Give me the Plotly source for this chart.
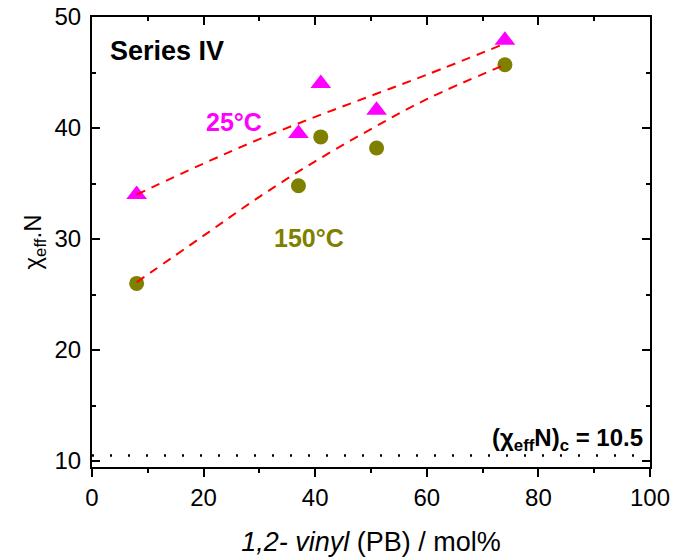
import plotly.graph_objects as go

# Data
vinyl_25 = [8, 37, 41, 51, 74]
chi_25 = [34.0, 39.5, 44.0, 41.6, 47.9]
vinyl_150 = [8, 37, 41, 51, 74]
chi_150 = [26.0, 34.8, 39.2, 38.2, 45.7]

fit_x = [8, 20, 30, 40, 50, 60, 74]
fit_25 = [34.0, 36.8, 39.0, 41.0, 42.9, 44.8, 47.6]
fit_150 = [26.1, 30.3, 33.8, 37.0, 39.9, 42.6, 45.7]

crit_x = [0, 100]
crit_y = [10.5, 10.5]

FONT = "Arial, Liberation Sans, sans-serif"
MAGENTA = "#FF00FF"
OLIVE = "#808000"

fig = go.Figure()

fig.add_trace(go.Scatter(x=crit_x, y=crit_y, mode="lines",
                         line=dict(color="black", width=2.5, dash="2px,16px"),
                         showlegend=False, hoverinfo="skip"))
fig.add_trace(go.Scatter(x=vinyl_25, y=chi_25, mode="markers",
                         marker=dict(symbol="triangle-up", size=18, color=MAGENTA),
                         showlegend=False))
fig.add_trace(go.Scatter(x=vinyl_150, y=chi_150, mode="markers",
                         marker=dict(symbol="circle", size=15, color=OLIVE),
                         showlegend=False))
fig.add_trace(go.Scatter(x=fit_x, y=fit_25, mode="lines", line_shape="spline",
                         line=dict(color="#FF0000", width=2, dash="9px,7px"),
                         showlegend=False))
fig.add_trace(go.Scatter(x=fit_x, y=fit_150, mode="lines", line_shape="spline",
                         line=dict(color="#FF0000", width=2, dash="9px,7px"),
                         showlegend=False))
# dummy trace for top axis
fig.add_trace(go.Scatter(x=[None], y=[None], xaxis="x2", yaxis="y", showlegend=False))

axis_common = dict(showgrid=False, zeroline=False, linecolor="black", linewidth=2,
                   tickcolor="black", tickwidth=2, automargin=False,
                   tickfont=dict(family=FONT, size=24, color="black"))

fig.update_layout(
    width=674, height=558,
    margin=dict(l=92, r=24, t=17, b=91),
    paper_bgcolor="white", plot_bgcolor="white",
    xaxis=dict(**axis_common, range=[0, 100], tick0=0, dtick=20,
               ticks="outside", ticklen=8, mirror=True, showline=True,
               minor=dict(dtick=10, ticks="outside", ticklen=4, tickwidth=2, tickcolor="black"),
               title=dict(text="<i>1,2- vinyl</i> (PB) / mol%",
                          font=dict(family=FONT, size=27, color="black"), standoff=22)),
    xaxis2=dict(overlaying="x", side="top", anchor="y", range=[0, 100], tick0=0, dtick=20,
                ticks="inside", ticklen=8, tickwidth=2, tickcolor="black", automargin=False,
                showticklabels=False, showgrid=False, zeroline=False, showline=False,
                minor=dict(dtick=10, ticks="inside", ticklen=4, tickwidth=2, tickcolor="black")),
    yaxis=dict(**axis_common, range=[9.46, 50], tick0=10, dtick=10,
               ticks="inside", ticklen=8, mirror="ticks", showline=True,
               ticklabelstandoff=4,
               minor=dict(dtick=5, ticks="inside", ticklen=4, tickwidth=2, tickcolor="black"),
               title=dict(text="χ<sub>eff</sub>.N",
                          font=dict(family=FONT, size=24, color="black"), standoff=6)),
    annotations=[
        dict(x=0.029, y=0.924, xref="paper", yref="paper", text="<b>Series IV</b>",
             showarrow=False, xanchor="left", yanchor="middle",
             font=dict(family=FONT, size=27, color="black")),
        dict(x=25.4, y=40.5, text="<b>25°C</b>", showarrow=False,
             xanchor="center", yanchor="middle",
             font=dict(family=FONT, size=25, color=MAGENTA)),
        dict(x=38.9, y=30.1, text="<b>150°C</b>", showarrow=False,
             xanchor="center", yanchor="middle",
             font=dict(family=FONT, size=25, color=OLIVE)),
        dict(x=0.991, y=11.9, xref="paper", yref="y",
             text="<b>(χ<sub>eff</sub>N)<sub>c</sub> = 10.5</b>", showarrow=False,
             xanchor="right", yanchor="middle",
             font=dict(family=FONT, size=24, color="black")),
    ],
)

fig.write_html("out.html")
